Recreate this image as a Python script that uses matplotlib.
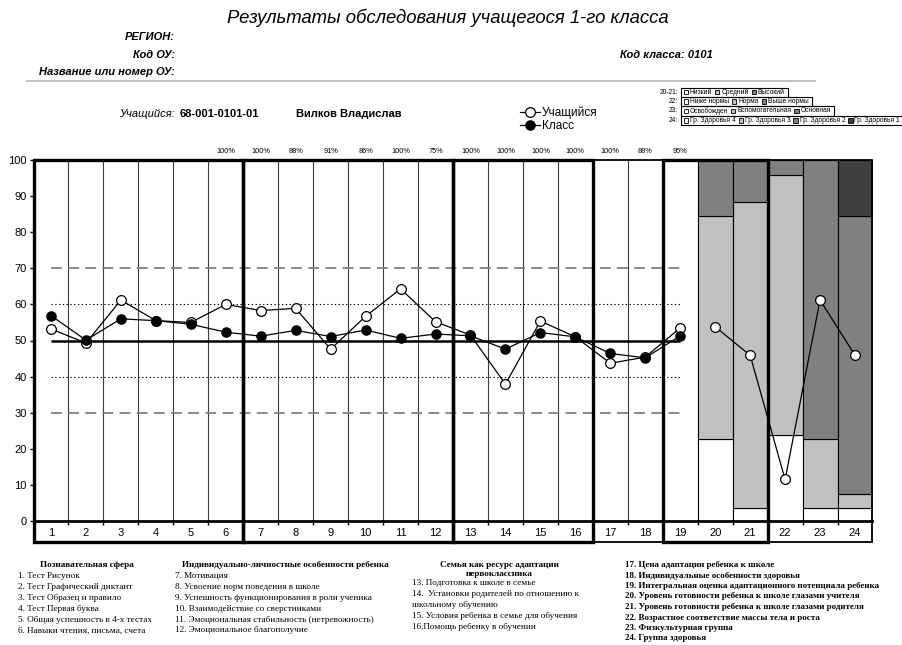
import matplotlib
matplotlib.use("Agg")
import matplotlib.pyplot as plt
from matplotlib.patches import Rectangle
from matplotlib.lines import Line2D

W, H = 902, 645
SANS = "Liberation Sans"
SERIF = "Liberation Serif"

# ---------------- data ----------------
categories = list(range(1, 25))
student = [53.2, 49.3, 61.2, 55.5, 55.0, 60.0, 58.3, 58.9, 47.6, 56.7, 64.3, 55.2,
           51.5, 37.9, 55.4, 51.0, 43.7, 45.4, 53.5, 53.8, 45.9, 11.5, 61.2, 45.9]
class_cats = list(range(1, 20))
class_avg = [56.9, 50.1, 56.0, 55.5, 54.5, 52.3, 51.2, 52.8, 51.1, 52.9, 50.6, 51.8,
             51.3, 47.6, 52.2, 51.0, 46.4, 45.2, 51.3]

pct_cats = list(range(6, 20))
pct_values = [100, 100, 88, 91, 86, 100, 75, 100, 100, 100, 100, 100, 88, 95]

bar_cats = [20, 21, 22, 23, 24]
seg_1 = [22.7, 3.5, 23.8, 3.5, 3.5]
seg_2 = [61.8, 84.8, 72.0, 19.2, 3.9]
seg_3 = [15.5, 11.7, 4.2, 77.3, 77.1]
seg_4 = [0.0, 0.0, 0.0, 0.0, 15.5]
seg_colors = ["#ffffff", "#c0c0c0", "#808080", "#404040"]

outer_levels = [30, 70]
inner_levels = [40, 60]
mid_level = 50

# (first category, last category, heavy border?)
groups = [(1, 6, True), (7, 12, True), (13, 16, True), (17, 18, False),
          (19, 21, True), (22, 24, False)]

legend_rows = [
    ("20-21:", ["Низкий", "Средний", "Высокий"]),
    ("22:", ["Ниже нормы", "Норма", "Выше нормы"]),
    ("23:", ["Освобожден", "Вспомогательная", "Основная"]),
    ("24:", ["Гр. Здоровья 4", "Гр. Здоровья 3", "Гр. Здоровья 2", "Гр. Здоровья 1"]),
]

notes_1_title = "Познавательная сфера"
notes_1 = ["1. Тест Рисунок", "2. Тест Графический диктант", "3. Тест Образец и правило",
           "4. Тест Первая буква", "5. Общая успешность в 4-х тестах",
           "6. Навыки чтения, письма, счета"]
notes_2_title = "Индивидуально-личностные особенности ребенка"
notes_2 = ["7. Мотивация", "8. Усвоение норм поведения в школе",
           "9. Успешность функционирования в роли ученика",
           "10. Взаимодействие со сверстниками",
           "11. Эмоциональная стабильность (нетревожность)",
           "12. Эмоциональное благополучие"]
notes_3_title = ["Семья как ресурс адаптации", "первоклассника"]
notes_3 = ["13. Подготовка к школе в семье",
           "14.  Установки родителей по отношению к",
           "школьному обучению",
           "15. Условия ребенка в семье для обучения",
           "16.Помощь ребенку в обучении"]
notes_4 = ["17. Цена адаптации ребенка к школе",
           "18. Индивидуальные особенности здоровья",
           "19. Интегральная оценка адаптационного потенциала ребенка",
           "20. Уровень готовности ребенка к школе глазами учителя",
           "21. Уровень готовности ребенка к школе глазами родителя",
           "22. Возрастное соответствие массы тела и роста",
           "23. Физкультурная группа",
           "24. Группа здоровья"]

# ---------------- figure ----------------
fig = plt.figure(figsize=(W / 100, H / 100), dpi=100)
fig.patch.set_facecolor("white")


def fx(x):
    return x / W


def fy(y):
    return 1 - y / H


def ftext(x, y, s, **kw):
    kw.setdefault("family", SANS)
    kw.setdefault("va", "center")
    return fig.text(fx(x), fy(y), s, **kw)


ax = fig.add_axes([fx(33.5), fy(521), 839 / W, 361 / H])
ax.set_xlim(0.5, 24.5)
ax.set_ylim(0, 100)
for sp in ax.spines.values():
    sp.set_visible(False)

# separators between categories
bounds = [c + 0.5 for c in categories[:-1]]
ax.vlines(bounds, 0, 100, color="#3a3a3a", lw=0.8, zorder=1)

# stacked bars for 20-24
bottom = [0.0] * len(bar_cats)
for seg, col in zip([seg_1, seg_2, seg_3, seg_4], seg_colors):
    ax.bar(bar_cats, seg, bottom=bottom, width=1.0, color=col,
           edgecolor="black", lw=0.8, zorder=2)
    bottom = [b + s for b, s in zip(bottom, seg)]

# reference levels
x0, x1 = categories[0], class_cats[-1]
ax.hlines(outer_levels, x0, x1, colors="#808080", lw=1.3,
          linestyles=(0, (6, 3.5)), zorder=3)
ax.hlines(inner_levels, x0, x1, colors="black", lw=0.8,
          linestyles=(0, (1.2, 2.2)), zorder=3)
ax.hlines(mid_level, x0, x1, colors="black", lw=1.8, zorder=3)

# student and class profiles
n = len(class_cats)
st_line, = ax.plot(categories[:n], student[:n], color="black", lw=0.9, marker="o",
                   ms=7, mfc="white", mec="black", mew=0.9, zorder=6)
ax.plot(categories[n:], student[n:], color="black", lw=0.9, marker="o",
        ms=7, mfc="white", mec="black", mew=0.9, zorder=6)
cl_line, = ax.plot(class_cats, class_avg, color="black", lw=0.9, marker="o",
                   ms=6.6, mfc="black", mec="black", zorder=7)

# group frames, extending down over the category-number row
y_bot = -5.8
for heavy in (False, True):
    for a, b, hv in groups:
        if hv != heavy:
            continue
        ax.add_patch(Rectangle((a - 0.5, y_bot), b - a + 1, 100 - y_bot, fill=False,
                               ec="black", lw=2.4 if hv else 1.3, clip_on=False,
                               zorder=8 if hv else 7.5))
ax.plot([0.5, 24.5], [0, 0], color="black", lw=2.0, clip_on=False, zorder=8)

# ticks
ax.set_xticks(categories)
ax.set_xticklabels([str(c) for c in categories], family=SANS, fontsize=8)
ax.set_xticks(bounds, minor=True)
ax.tick_params(axis="x", which="major", length=0, pad=5)
ax.tick_params(axis="x", which="minor", length=3, width=1, direction="out")
ax.set_yticks(range(0, 101, 10))
ax.set_yticklabels([str(v) for v in range(0, 101, 10)], family=SANS, fontsize=8)
ax.tick_params(axis="y", length=3, width=1, pad=2)

# percentage row
for c, v in zip(pct_cats, pct_values):
    ax.text(c, 102.3, f"{v}%", ha="center", va="center", fontsize=5.3,
            family=SANS, clip_on=False)

# ---------------- header ----------------
ftext(448, 18, "Результаты обследования учащегося 1-го класса", ha="center",
      fontsize=13.3, style="italic")
ftext(175, 37, "РЕГИОН:", ha="right", fontsize=8, style="italic", weight="bold")
ftext(175, 55, "Код ОУ:", ha="right", fontsize=8, style="italic", weight="bold")
ftext(175, 72, "Название или номер ОУ:", ha="right", fontsize=8, style="italic",
      weight="bold")
ftext(666, 55, "Код класса: 0101", ha="center", fontsize=8, style="italic",
      weight="bold")
fig.add_artist(Line2D([fx(27), fx(815)], [fy(80.5), fy(80.5)], color="#b8b8b8", lw=1.2))

ftext(175, 114, "Учащийся:", ha="right", fontsize=8, style="italic")
ftext(180, 114, "68-001-0101-01", ha="left", fontsize=8, weight="bold")
ftext(296, 114, "Вилков Владислав", ha="left", fontsize=8, weight="bold")

fig.legend(handles=[st_line, cl_line], labels=["Учащийся", "Класс"],
           loc="center left", bbox_to_anchor=(fx(514), fy(119)), frameon=False,
           handlelength=1.7, handletextpad=0.15, labelspacing=0.1, borderpad=0,
           prop={"family": SANS, "size": 8.5})

# ---------------- category legend boxes ----------------
renderer = fig.canvas.get_renderer()
row_top, row_h = 87.5, 9.4
box_x0 = 681
leg_fs = 4.75
for i, (lab, items) in enumerate(legend_rows):
    yc = row_top + row_h * (i + 0.5)
    ftext(678, yc, lab, ha="right", fontsize=leg_fs)
    cur = box_x0 + 2.5
    for j, item in enumerate(items):
        sq = 4.3
        fig.add_artist(Rectangle((fx(cur), fy(yc + sq / 2)), sq / W, sq / H,
                                 transform=fig.transFigure, fc=seg_colors[j],
                                 ec="black", lw=0.6))
        t = ftext(cur + sq + 1.8, yc, item, ha="left", fontsize=leg_fs)
        bb = t.get_window_extent(renderer)
        cur = bb.x1 + 3.2
    fig.add_artist(Rectangle((fx(box_x0), fy(row_top + row_h * (i + 1))),
                             (cur - box_x0) / W, row_h / H,
                             transform=fig.transFigure, fill=False, ec="black", lw=0.8))

# ---------------- notes under the chart ----------------
ls = 10.9
note_fs = 6.6
ftext(87, 565, notes_1_title, ha="center", family=SERIF, fontsize=note_fs, weight="bold")
for k, s in enumerate(notes_1):
    ftext(18, 565 + ls * (k + 1), s, ha="left", family=SERIF, fontsize=note_fs)

ftext(285, 565, notes_2_title, ha="center", family=SERIF, fontsize=note_fs, weight="bold")
for k, s in enumerate(notes_2):
    ftext(175, 565 + ls * (k + 1), s, ha="left", family=SERIF, fontsize=note_fs)

for k, s in enumerate(notes_3_title):
    ftext(499, 565 + 9 * k, s, ha="center", family=SERIF, fontsize=note_fs,
          weight="bold")
for k, s in enumerate(notes_3):
    ftext(412, 583 + ls * k, s, ha="left", family=SERIF, fontsize=note_fs)

for k, s in enumerate(notes_4):
    ftext(625, 565 + 10.5 * k, s, ha="left", family=SERIF, fontsize=6.5,
          weight="bold")

fig.savefig("out.png", dpi=100)
